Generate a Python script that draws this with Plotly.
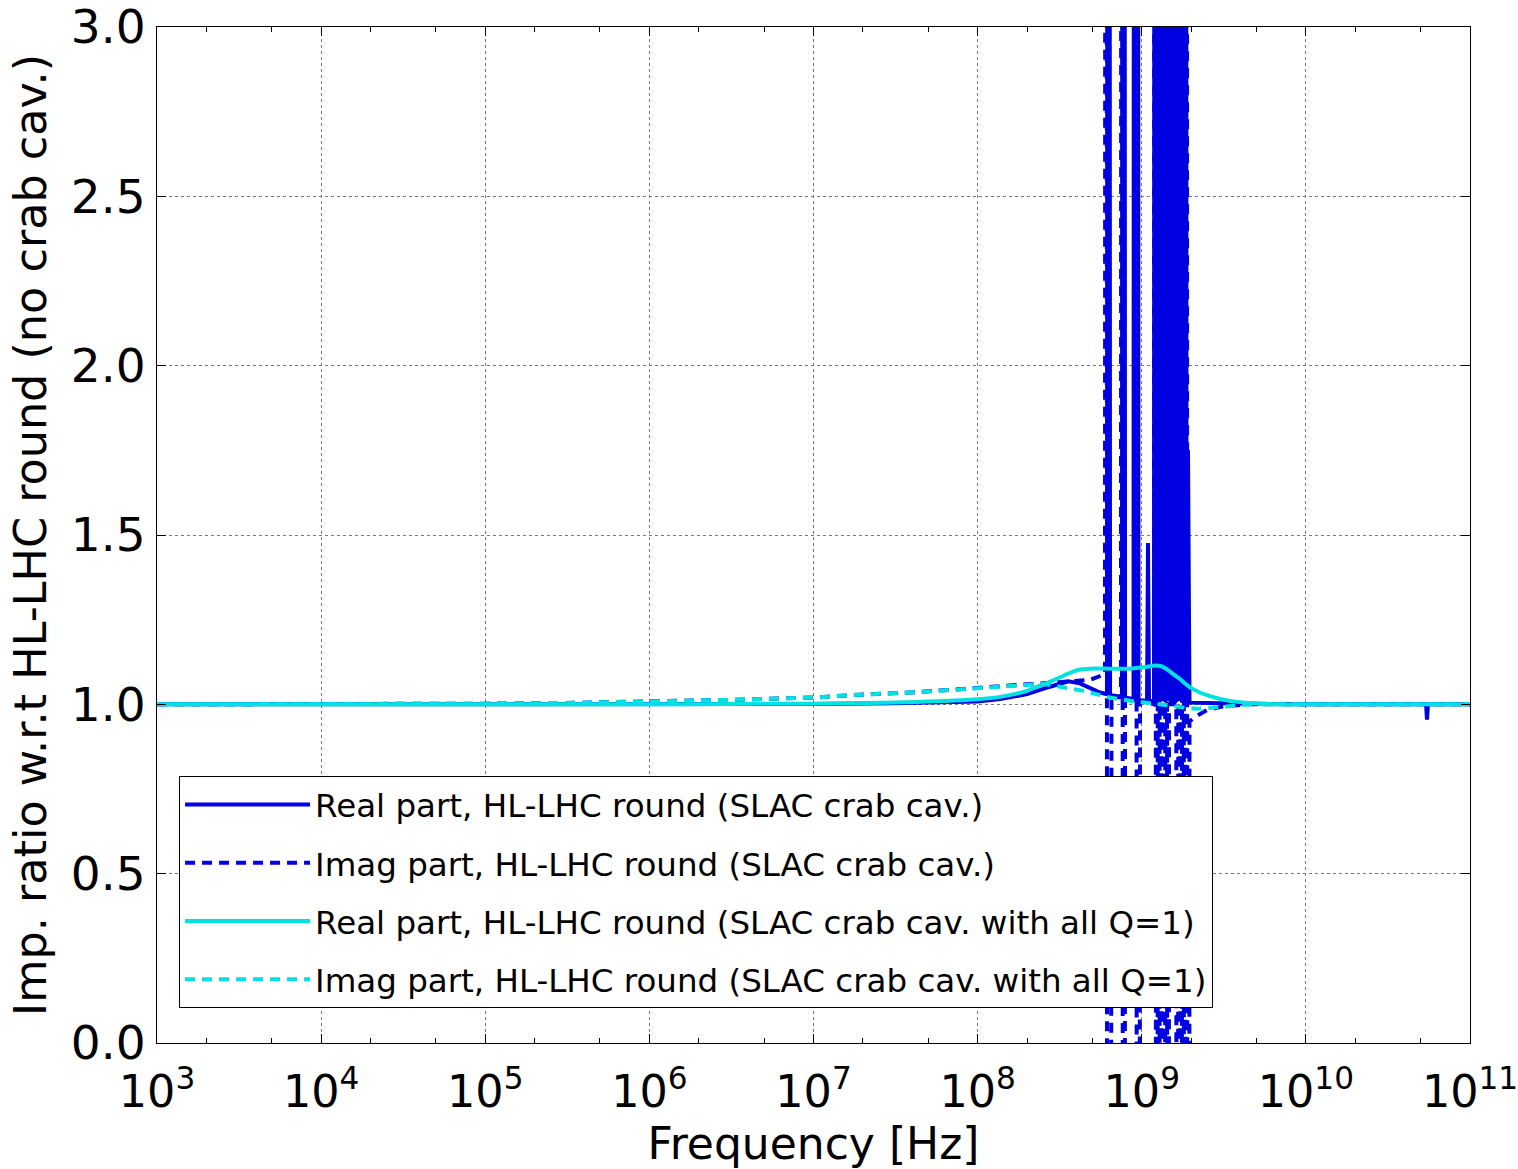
import plotly.graph_objects as go

# ---------------- data ----------------
# Real part, HL-LHC round (SLAC crab cav.)
freq_real_slac = [
    1e3, 1e4, 1e5, 1e6, 1e7, 3e7, 1e8, 1.37e8, 2e8, 2.76e8, 3.56e8, 4.2e8, 4.84e8, 5.57e8,
    6.14e8, 6.27e8, 6.41e8,
    7.58e8, 7.74e8, 7.91e8,
    8.91e8, 9.07e8, 9.23e8, 9.39e8, 9.55e8,
    1.0764e9, 1.0916e9, 1.107e9,
    1.1876e9, 1.2086e9, 1.23e9, 1.2518e9, 1.274e9, 1.2965e9, 1.3195e9, 1.3428e9,
    1.3666e9, 1.3907e9, 1.4154e9, 1.4404e9, 1.4659e9, 1.4866e9, 1.5076e9,
    1.5832e9, 1.6112e9, 1.6397e9, 1.6687e9, 1.6982e9, 1.7283e9, 1.7588e9, 1.79e9,
    1.8216e9, 1.8474e9, 1.8735e9,
    1.9133e9, 1.954e9,
    3e9, 1e10, 5.40e10, 5.47e10, 5.55e10, 1e11,
]
real_slac = [
    1.0, 1.0, 1.0, 1.0, 1.001, 1.003, 1.008, 1.016, 1.03, 1.052, 1.068, 1.062, 1.048, 1.035,
    1.03, 12.0, 1.028,
    1.022, 12.0, 1.02,
    1.015, 12.0, 1.015, 12.0, 1.013,
    1.01, 1.476, 1.01,
    1.01, 12.0, 1.01, 12.0, 1.01, 12.0, 1.01, 12.0,
    1.01, 12.0, 1.01, 12.0, 1.01, 12.0, 1.01,
    1.01, 12.0, 1.01, 12.0, 1.01, 12.0, 1.01, 12.0,
    1.01, 12.0, 1.01,
    1.75, 1.005,
    1.003, 1.0, 1.0, 0.955, 1.0, 1.0,
]

# Imag part, HL-LHC round (SLAC crab cav.)
freq_imag_slac = [
    1e3, 1e4, 1e5, 3e5, 1e6, 3e6, 1e7, 1.67e7, 4.27e7, 1e8, 2e8, 3e8, 4e8, 4.8e8, 5.34e8,
    5.97e8, 6.06e8, 6.23e8, 6.54e8,
    7.47e8, 7.58e8, 7.74e8, 7.91e8,
    9.07e8, 9.23e8, 9.39e8, 9.76e8,
    1.0916e9,
    1.1876e9, 1.2086e9, 1.23e9, 1.2518e9,
    1.274e9, 1.2965e9, 1.3195e9,
    1.3428e9, 1.3666e9, 1.3907e9,
    1.4154e9, 1.4404e9, 1.4659e9,
    1.5832e9, 1.6112e9, 1.6397e9, 1.6687e9,
    1.6982e9, 1.7283e9, 1.7588e9,
    1.79e9, 1.8216e9, 1.8474e9,
    1.8735e9, 1.9133e9, 1.954e9,
    2.2e9, 2.5e9, 3.2e9, 4.5e9, 1e10, 1e11,
]
imag_slac = [
    1.0, 1.0, 1.002, 1.004, 1.008, 1.013, 1.02, 1.027, 1.036, 1.048, 1.06, 1.065, 1.068, 1.072, 1.08,
    1.09, 12.0, -12.0, 1.025,
    1.02, 12.0, -12.0, 1.02,
    1.015, 12.0, -12.0, 1.01,
    1.006,
    1.0, 12.0, -12.0, 1.0,
    12.0, -12.0, 1.0,
    12.0, -12.0, 1.0,
    12.0, -12.0, 1.0,
    1.0, 12.0, -12.0, 1.0,
    12.0, -12.0, 1.0,
    12.0, -12.0, 0.99,
    12.0, -12.0, 0.95,
    0.968, 0.983, 0.995, 1.0, 1.0, 1.0,
]

# Real / Imag part, HL-LHC round (SLAC crab cav. with all Q=1)
freq_q1 = [
    1e3, 1e4, 1e5, 3e5, 1e6, 3e6, 1e7, 1.67e7, 4.27e7, 1e8, 1.37e8, 1.7e8, 2e8, 2.17e8, 2.5e8,
    2.8e8, 3.18e8, 3.7e8, 4.21e8, 5.2e8, 6.4e8, 8.7e8, 1.05e9, 1.17e9, 1.3e9, 1.43e9, 1.5e9,
    1.6e9, 1.71e9, 1.8e9, 1.97e9, 2.26e9, 2.5e9, 2.8e9, 3e9, 3.45e9, 3.7e9, 4.57e9, 7e9,
    1e10, 1e11,
]
real_q1 = [
    1.0, 1.0, 1.0, 1.0, 1.0, 1.001, 1.002, 1.003, 1.007, 1.015, 1.022, 1.031, 1.04, 1.047, 1.058,
    1.068, 1.08, 1.094, 1.103, 1.106, 1.105, 1.106, 1.11, 1.114, 1.113, 1.103, 1.095,
    1.085, 1.075, 1.065, 1.05, 1.035, 1.027, 1.02, 1.016, 1.01, 1.008, 1.004, 1.0,
    1.0, 1.0,
]
imag_q1 = [
    1.0, 1.0, 1.002, 1.004, 1.008, 1.013, 1.02, 1.027, 1.036, 1.048, 1.054, 1.057, 1.058, 1.06, 1.06,
    1.057, 1.051, 1.046, 1.042, 1.03, 1.02, 1.01, 1.006, 1.003, 1.0, 0.998, 0.996,
    0.994, 0.992, 0.99, 0.988, 0.987, 0.989, 0.991, 0.993, 0.997, 0.998, 1.0, 1.0,
    1.0, 1.0,
]

x_tick_vals = [1e3, 1e4, 1e5, 1e6, 1e7, 1e8, 1e9, 1e10, 1e11]
x_tick_text = ["10<sup>%d</sup>" % n for n in range(3, 12)]
y_tick_vals = [0.0, 0.5, 1.0, 1.5, 2.0, 2.5, 3.0]

names = [
    "Real part, HL-LHC round (SLAC crab cav.)",
    "Imag part, HL-LHC round (SLAC crab cav.)",
    "Real part, HL-LHC round (SLAC crab cav. with all Q=1)",
    "Imag part, HL-LHC round (SLAC crab cav. with all Q=1)",
]

BLUE = "#0000e1"
CYAN = "#00e1e1"
DASH = "10px,7px"
LW = 4
FONT = "DejaVu Sans, Liberation Sans, sans-serif"

fig = go.Figure()
fig.add_trace(go.Scatter(x=freq_real_slac, y=real_slac, mode="lines", name=names[0],
                         legendgroup="a", line=dict(color=BLUE, width=LW)))
fig.add_trace(go.Scatter(x=freq_imag_slac, y=imag_slac, mode="lines", name=names[1],
                         legendgroup="b", line=dict(color=BLUE, width=LW, dash=DASH)))
fig.add_trace(go.Scatter(x=freq_q1, y=real_q1, mode="lines", name=names[2],
                         legendgroup="c", line=dict(color=CYAN, width=LW, shape="spline", smoothing=0.6)))
fig.add_trace(go.Scatter(x=freq_q1, y=imag_q1, mode="lines", name=names[3],
                         legendgroup="d", line=dict(color=CYAN, width=LW, dash=DASH)))

fig.update_layout(
    width=1518, height=1169,
    margin=dict(l=157, r=48, t=27, b=126, autoexpand=False),
    paper_bgcolor="white", plot_bgcolor="white",
    font=dict(family=FONT, color="black", size=44),
    showlegend=True,
    legend=dict(
        x=0.0168, y=0.2628, xanchor="left", yanchor="top",
        bgcolor="white", bordercolor="black", borderwidth=1,
        font=dict(size=32.5, family=FONT),
        tracegroupgap=13, itemwidth=125,
        traceorder="grouped",
    ),
)

fig.update_xaxes(
    type="log", range=[3, 11], automargin=False, ticklabeloverflow="allow",
    tickvals=x_tick_vals, ticktext=x_tick_text,
    ticks="inside", ticklen=9, tickwidth=1, tickcolor="black",
    showline=True, linecolor="black", linewidth=1, mirror="ticks",
    showgrid=True, gridcolor="rgb(120,120,120)", griddash="dot", gridwidth=1,
    zeroline=False,
    tickfont=dict(size=44.5, family=FONT),
    ticklabelstandoff=10,
    minor=dict(ticks="inside", ticklen=5, tickcolor="black", showgrid=False),
    title=dict(text="Frequency [Hz]", font=dict(size=44, family=FONT), standoff=14),
)
fig.update_yaxes(
    range=[0, 3], tickvals=y_tick_vals, tickformat=".1f", automargin=False,
    ticklabeloverflow="allow",
    ticks="inside", ticklen=9, tickwidth=1, tickcolor="black",
    showline=True, linecolor="black", linewidth=1, mirror="ticks",
    showgrid=True, gridcolor="rgb(120,120,120)", griddash="dot", gridwidth=1,
    zeroline=False,
    tickfont=dict(size=47, family=FONT),
    ticklabelstandoff=1,
    title=dict(text="Imp. ratio w.r.t HL-LHC round (no crab cav.)",
               font=dict(size=44.5, family=FONT), standoff=10),
)

fig.write_html("out.html")
